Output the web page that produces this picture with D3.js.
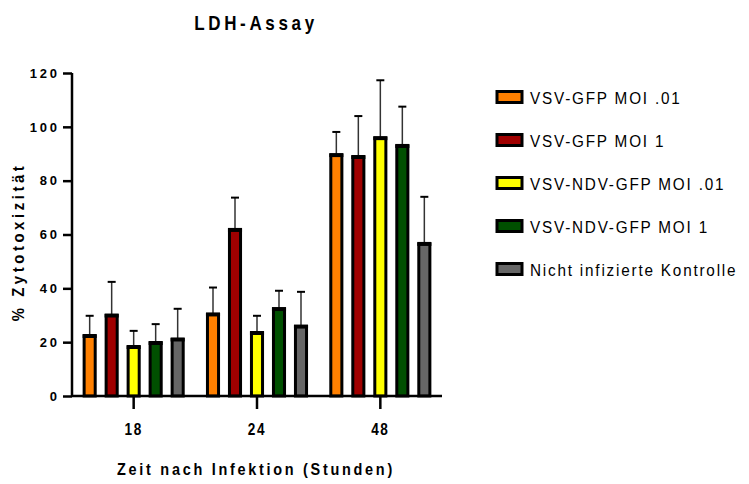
<!DOCTYPE html>
<html>
<head>
<meta charset="utf-8">
<script src="https://cdn.jsdelivr.net/npm/d3@7"></script>
<style>
  body { margin: 0; background: #fff; }
  text { font-family: "Liberation Sans", Arial, sans-serif; fill: #000; }
</style>
</head>
<body>
<div class="chart"></div>
<script>
var width = 749,
    height = 484;

// data
var hours = ["18", "24", "48"];
var series = ["VSV-GFP MOI .01", "VSV-GFP MOI 1", "VSV-NDV-GFP MOI .01", "VSV-NDV-GFP MOI 1", "Nicht infizierte Kontrolle"];
var colors = ["#ff8000", "#a00000", "#ffff00", "#005000", "#666666"];
var means18 = [22.3, 29.9, 18.2, 19.7, 21.0];
var means24 = [30.3, 61.7, 23.4, 32.3, 25.8];
var means48 = [89.5, 88.8, 95.8, 92.9, 56.5];
var err18 = [7.5, 12.5, 6.0, 7.0, 11.4];
var err24 = [10.0, 12.0, 6.4, 6.8, 12.9];
var err48 = [8.6, 15.2, 21.5, 14.6, 17.5];
var yTicks = [0, 20, 40, 60, 80, 100, 120];

var means = [means18, means24, means48],
    errs = [err18, err24, err48];

var svg = d3.select(".chart").append("svg")
    .attr("width", width)
    .attr("height", height);

var x0 = d3.scaleBand()
    .domain(hours)
    .range([72, 442])
    .padding(0);

var x1 = d3.scaleBand()
    .domain(series)
    .range([-55, 55])
    .paddingInner(0.36)
    .paddingOuter(0.18);

var y = d3.scaleLinear()
    .domain([0, 120])
    .range([396, 73]);

//bars
var rows = [];
hours.forEach(function(h, i) {
  series.forEach(function(s, j) {
    rows.push({hour: h, s: s, j: j, v: means[i][j], e: errs[i][j]});
  });
});

var bars = svg.append("g").selectAll("g")
  .data(rows)
  .enter().append("g")
  .attr("transform", function(d) { return "translate(" + (x0(d.hour) + x0.bandwidth() / 2 + x1(d.s)) + ",0)"; });

//error bars (up only)
bars.append("line")
  .attr("x1", x1.bandwidth() / 2)
  .attr("x2", x1.bandwidth() / 2)
  .attr("y1", function(d) { return y(d.v); })
  .attr("y2", function(d) { return y(d.v + d.e); })
  .attr("stroke", "#333")
  .attr("stroke-width", 1.5);

bars.append("line")
  .attr("x1", x1.bandwidth() / 2 - 4)
  .attr("x2", x1.bandwidth() / 2 + 4)
  .attr("y1", function(d) { return y(d.v + d.e); })
  .attr("y2", function(d) { return y(d.v + d.e); })
  .attr("stroke", "#000")
  .attr("stroke-width", 2);

bars.append("rect")
  .attr("x", 1.5)
  .attr("width", x1.bandwidth() - 3)
  .attr("y", function(d) { return y(d.v); })
  .attr("height", function(d) { return y(0) - y(d.v); })
  .attr("fill", function(d) { return colors[d.j]; })
  .attr("stroke", "#000")
  .attr("stroke-width", 3);

bars.append("line")
  .attr("x1", 0)
  .attr("x2", x1.bandwidth())
  .attr("y1", function(d) { return y(d.v); })
  .attr("y2", function(d) { return y(d.v); })
  .attr("stroke", "#000")
  .attr("stroke-width", 4);

//axes
var yAxis = svg.append("g")
  .attr("transform", "translate(72,0)")
  .call(d3.axisLeft(y).tickValues(yTicks).tickSize(9).tickPadding(3.2));

var xAxis = svg.append("g")
  .attr("transform", "translate(0,396)")
  .call(d3.axisBottom(x0).tickSize(13));

[yAxis, xAxis].forEach(function(a) {
  a.select(".domain").attr("stroke", "#000").attr("stroke-width", 2.5);
  a.selectAll(".tick line").attr("stroke", "#000").attr("stroke-width", 2.5);
  a.selectAll(".tick text")
    .style("font-family", "'Liberation Sans', Arial, sans-serif")
    .style("font-weight", "bold")
    .attr("fill", "#000");
});
yAxis.selectAll(".tick text")
  .style("font-size", "13px")
  .style("letter-spacing", "2.8px");
xAxis.selectAll(".tick text")
  .attr("y", 39)
  .attr("dy", 0)
  .attr("transform", "scale(0.8,1)")
  .style("font-size", "17px")
  .style("letter-spacing", "2px");
xAxis.select(".domain").attr("d", "M72,0H442");
yAxis.select(".domain").attr("d", "M0,396V73");

//titles
svg.append("text")
  .attr("transform", "translate(256,30) scale(0.85,1)")
  .attr("text-anchor", "middle")
  .style("font-weight", "bold")
  .style("font-size", "20px")
  .style("letter-spacing", "4.3px")
  .text("LDH-Assay");

svg.append("text")
  .attr("transform", "translate(24,242) rotate(-90) scale(0.9,1)")
  .attr("text-anchor", "middle")
  .style("font-weight", "bold")
  .style("font-size", "16.5px")
  .style("letter-spacing", "4px")
  .text("% Zytotoxizität");

svg.append("text")
  .attr("transform", "translate(256,475) scale(0.85,1)")
  .attr("text-anchor", "middle")
  .style("font-weight", "bold")
  .style("font-size", "17px")
  .style("letter-spacing", "3.2px")
  .text("Zeit nach Infektion (Stunden)");

//legend
var legend = svg.append("g").selectAll("g")
  .data(series)
  .enter().append("g")
  .attr("transform", function(d, i) { return "translate(497," + (97 + i * 43) + ")"; });

legend.append("rect")
  .attr("x", 0)
  .attr("y", -5.5)
  .attr("width", 25)
  .attr("height", 11)
  .attr("fill", function(d, i) { return colors[i]; })
  .attr("stroke", "#000")
  .attr("stroke-width", 3);

legend.append("text")
  .attr("transform", "translate(33,6.5) scale(0.9,1)")
  .style("font-size", "17px")
  .style("letter-spacing", "2px")
  .text(function(d) { return d; });
</script>
</body>
</html>
